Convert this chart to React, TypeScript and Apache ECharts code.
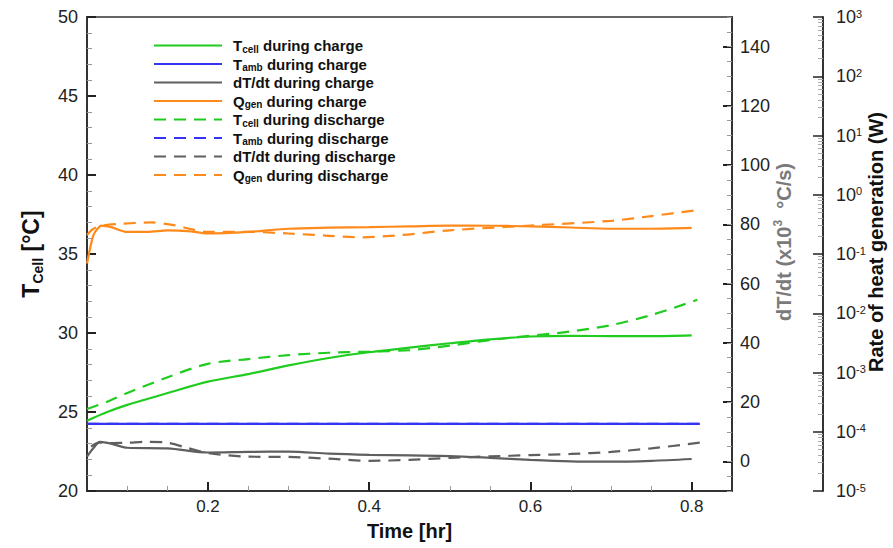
import { useEffect, useRef } from "react";
import * as echarts from "echarts";

const FONT = "'Liberation Sans', Arial, Helvetica, sans-serif";

// Time axis ticks [hr]
const xMajorTicks = [0.2, 0.4, 0.6, 0.8];
const xMinorTicks = [0.1, 0.15, 0.25, 0.3, 0.35, 0.45, 0.5, 0.55, 0.65, 0.7, 0.75];
// dT/dt axis ticks (x10^3 °C/s)
const dTdtMajorTicks = [0, 20, 40, 60, 80, 100, 120, 140];

// Cell temperature [°C]
const tCellChargeTime = [0.05, 0.075, 0.1, 0.15, 0.2, 0.25, 0.3, 0.35, 0.4, 0.45, 0.5, 0.55, 0.6, 0.65, 0.7, 0.75, 0.8];
const tCellCharge = [24.45, 25.0, 25.45, 26.2, 26.92, 27.4, 27.95, 28.42, 28.78, 29.08, 29.35, 29.6, 29.78, 29.82, 29.8, 29.8, 29.85];
const tCellDischargeTime = [0.05, 0.075, 0.1, 0.15, 0.2, 0.25, 0.3, 0.35, 0.4, 0.45, 0.5, 0.55, 0.6, 0.65, 0.7, 0.75, 0.807];
const tCellDischarge = [25.19, 25.65, 26.2, 27.2, 28.05, 28.35, 28.6, 28.75, 28.82, 28.92, 29.2, 29.55, 29.82, 30.1, 30.5, 31.14, 32.1];

// Ambient temperature [°C]
const tAmbTime = [0.05, 0.2, 0.4, 0.6, 0.81];
const tAmbCharge = [24.25, 24.25, 24.25, 24.25, 24.25];
const tAmbDischarge = [24.25, 24.25, 24.25, 24.25, 24.25];

// Heating rate dT/dt (x10^3 °C/s)
const dTdtChargeTime = [0.05, 0.058, 0.066, 0.08, 0.1, 0.15, 0.2, 0.25, 0.3, 0.35, 0.4, 0.45, 0.5, 0.55, 0.6, 0.65, 0.7, 0.75, 0.8];
const dTdtCharge = [1.6, 4.5, 6.6, 6.0, 4.6, 4.4, 3.0, 3.2, 3.3, 2.6, 2.2, 2.0, 1.8, 1.2, 0.5, 0.0, -0.1, 0.2, 0.8];
const dTdtDischargeTime = [0.055, 0.065, 0.08, 0.1, 0.125, 0.15, 0.175, 0.2, 0.25, 0.3, 0.35, 0.4, 0.45, 0.5, 0.55, 0.6, 0.65, 0.7, 0.75, 0.81];
const dTdtDischarge = [5.0, 6.3, 6.2, 6.3, 6.6, 6.3, 4.5, 2.8, 1.6, 1.5, 0.9, 0.2, 0.5, 1.2, 1.7, 2.1, 2.5, 3.2, 4.4, 6.3];

// Rate of heat generation Q_gen [W]
const qGenChargeTime = [0.05, 0.054, 0.058, 0.063, 0.068, 0.08, 0.1, 0.125, 0.15, 0.175, 0.2, 0.25, 0.3, 0.35, 0.4, 0.45, 0.5, 0.55, 0.6, 0.65, 0.7, 0.75, 0.8];
const qGenCharge = [0.069, 0.128, 0.209, 0.267, 0.302, 0.284, 0.236, 0.236, 0.251, 0.244, 0.222, 0.236, 0.267, 0.278, 0.284, 0.293, 0.302, 0.3, 0.293, 0.28, 0.267, 0.267, 0.275];
const qGenDischargeTime = [0.05, 0.058, 0.07, 0.09, 0.13, 0.16, 0.2, 0.25, 0.3, 0.35, 0.39, 0.44, 0.5, 0.6, 0.7, 0.75, 0.81];
const qGenDischarge = [0.209, 0.267, 0.302, 0.321, 0.341, 0.302, 0.236, 0.236, 0.222, 0.203, 0.191, 0.209, 0.251, 0.302, 0.363, 0.437, 0.558];

const GREEN = "#1fcc1f";
const BLUE = "#3434f2";
const GRAY = "#5f5f5f";
const ORANGE = "#ff8a1c";
const AXIS = "#333333";

const pairs = (xs: number[], ys: number[]) => xs.map((x, i) => [x, ys[i]]);

// minor ticks of the log axis, expressed as decade exponents
const logMinorTicks: number[] = [];
for (let e = -5; e < 3; e++) {
  for (let k = 2; k <= 9; k++) logMinorTicks.push(e + Math.log10(k));
}

const line = (name: string, data: number[][], color: string, dashed: boolean, yAxisIndex: number) => ({
  type: "line",
  name,
  data,
  xAxisIndex: 0,
  yAxisIndex,
  symbol: "none",
  showSymbol: false,
  smooth: 0.3,
  lineStyle: { color, width: 2.2, type: dashed ? [12, 8] : "solid" },
  itemStyle: { color },
});

const hiddenAxisBase = {
  axisLine: { show: false, onZero: false },
  axisLabel: { show: false },
  splitLine: { show: false },
};

export default function App() {
  const ref = useRef<HTMLDivElement>(null);

  useEffect(() => {
    const chart = echarts.init(ref.current!, null, { renderer: "svg" });
    const option: any = {
      animation: false,
      backgroundColor: "#ffffff",
      textStyle: { fontFamily: FONT },
      grid: {
        left: 87,
        right: 161,
        top: 17,
        bottom: 57,
        containLabel: false,
        outerBoundsMode: "none",
        show: true,
        borderColor: AXIS,
        borderWidth: 1.5,
        backgroundColor: "transparent",
      },
      legend: {
        orient: "vertical",
        left: 148,
        top: 32,
        itemWidth: 68,
        itemHeight: 14,
        itemGap: 1.5,
        padding: 5,
        itemStyle: { opacity: 0 },
        formatter: (name: string) => name.replace(/_(\w+)/, "{sub|$1}"),
        textStyle: {
          fontFamily: FONT,
          fontSize: 15,
          fontWeight: "bold",
          color: "#111",
          lineHeight: 17,
          padding: [0, 0, 0, 6],
          rich: { sub: { fontFamily: FONT, fontSize: 10, fontWeight: "bold", color: "#111", verticalAlign: "bottom" } },
        },
      },
      xAxis: [
        {
          type: "value",
          min: 0.05,
          max: 0.85,
          name: "Time [hr]",
          nameLocation: "middle",
          nameGap: 30,
          nameMoveOverlap: false,
          nameTextStyle: { fontFamily: FONT, fontSize: 20, fontWeight: "bold", color: "#111" },
          axisLine: { show: true, onZero: false, lineStyle: { color: AXIS, width: 2 } },
          axisTick: { show: true, inside: true, length: 9, customValues: xMajorTicks, lineStyle: { color: "#222", width: 2 } },
          axisLabel: { customValues: xMajorTicks, margin: 7, fontSize: 17, color: "#222", fontFamily: FONT },
          splitLine: { show: false },
        },
        {
          type: "value",
          min: 0.05,
          max: 0.85,
          position: "bottom",
          ...hiddenAxisBase,
          axisTick: { show: true, inside: true, length: 5, customValues: xMinorTicks, lineStyle: { color: "#999", width: 1 } },
        },
      ],
      yAxis: [
        {
          type: "value",
          min: 20,
          max: 50,
          interval: 5,
          position: "left",
          name: "T{sub|Cell} [°C]",
          nameLocation: "middle",
          nameRotate: 90,
          nameGap: 42,
          nameMoveOverlap: false,
          nameTextStyle: {
            fontFamily: FONT,
            fontSize: 23,
            fontWeight: "bold",
            color: "#111",
            lineHeight: 28,
            rich: { sub: { fontFamily: FONT, fontSize: 14, fontWeight: "bold", color: "#111", verticalAlign: "bottom" } },
          },
          axisLine: { show: true, onZero: false, lineStyle: { color: AXIS, width: 2 } },
          axisTick: { show: true, inside: true, length: 9, lineStyle: { color: "#222", width: 2 } },
          minorTick: { show: true, splitNumber: 5, length: 5, lineStyle: { color: "#999", width: 1 } },
          axisLabel: { margin: 9, fontSize: 18, color: "#222", fontFamily: FONT },
          splitLine: { show: false },
          minorSplitLine: { show: false },
        },
        {
          type: "value",
          min: -10,
          max: 150,
          position: "right",
          offset: 0,
          name: "dT/dt (x10{sup|3}  °C/s)",
          nameLocation: "middle",
          nameRotate: 90,
          nameGap: 40,
          nameMoveOverlap: false,
          nameTextStyle: {
            fontFamily: FONT,
            fontSize: 20,
            fontWeight: "bold",
            color: "#7a7a7a",
            lineHeight: 24,
            padding: [0, 0, 0, 24],
            rich: { sup: { fontFamily: FONT, fontSize: 12, fontWeight: "bold", color: "#7a7a7a", verticalAlign: "top" } },
          },
          axisLine: { show: true, onZero: false, lineStyle: { color: AXIS, width: 2 } },
          axisTick: { show: true, inside: true, length: 9, customValues: dTdtMajorTicks, lineStyle: { color: "#222", width: 2 } },
          axisLabel: { customValues: dTdtMajorTicks, margin: 8, fontSize: 18, color: "#222", fontFamily: FONT },
          splitLine: { show: false },
        },
        {
          type: "log",
          logBase: 10,
          min: 0.00001,
          max: 1000,
          interval: 1,
          position: "right",
          offset: 91,
          name: "Rate of heat generation (W)",
          nameLocation: "middle",
          nameRotate: 90,
          nameGap: 43,
          nameMoveOverlap: false,
          nameTextStyle: {
            fontFamily: FONT,
            fontSize: 20,
            fontWeight: "bold",
            color: "#111",
            padding: [0, 0, 0, 24],
          },
          axisLine: { show: true, onZero: false, lineStyle: { color: AXIS, width: 2 } },
          axisTick: { show: true, inside: true, length: 10, lineStyle: { color: "#222", width: 1.5 } },
          axisLabel: {
            margin: 13,
            fontSize: 18,
            color: "#222",
            fontFamily: FONT,
            formatter: (v: number) => `10{sup|${Math.round(Math.log10(v))}}`,
            rich: { sup: { fontFamily: FONT, fontSize: 11, color: "#222", verticalAlign: "top" } },
          },
          splitLine: { show: false },
        },
        {
          type: "value",
          min: -10,
          max: 150,
          interval: 5,
          position: "right",
          offset: 0,
          ...hiddenAxisBase,
          axisTick: { show: true, inside: true, length: 5, lineStyle: { color: "#999", width: 1 } },
        },
        {
          type: "value",
          min: -5,
          max: 3,
          position: "right",
          offset: 91,
          ...hiddenAxisBase,
          axisTick: { show: true, inside: true, length: 5, customValues: logMinorTicks, lineStyle: { color: "#aaa", width: 1 } },
        },
      ],
      series: [
        line("T_cell during charge", pairs(tCellChargeTime, tCellCharge), GREEN, false, 0),
        line("T_amb during charge", pairs(tAmbTime, tAmbCharge), BLUE, false, 0),
        line("dT/dt during charge", pairs(dTdtChargeTime, dTdtCharge), GRAY, false, 1),
        line("Q_gen during charge", pairs(qGenChargeTime, qGenCharge), ORANGE, false, 2),
        line("T_cell during discharge", pairs(tCellDischargeTime, tCellDischarge), GREEN, true, 0),
        { ...line("T_amb during discharge", pairs(tAmbTime, tAmbDischarge), BLUE, true, 0), z: 1 },
        line("dT/dt during discharge", pairs(dTdtDischargeTime, dTdtDischarge), GRAY, true, 1),
        line("Q_gen during discharge", pairs(qGenDischargeTime, qGenDischarge), ORANGE, true, 2),
      ],
    };
    chart.setOption(option);
    return () => chart.dispose();
  }, []);

  return <div ref={ref} style={{ position: "absolute", left: 0, top: 0, width: 893, height: 548 }} />;
}
